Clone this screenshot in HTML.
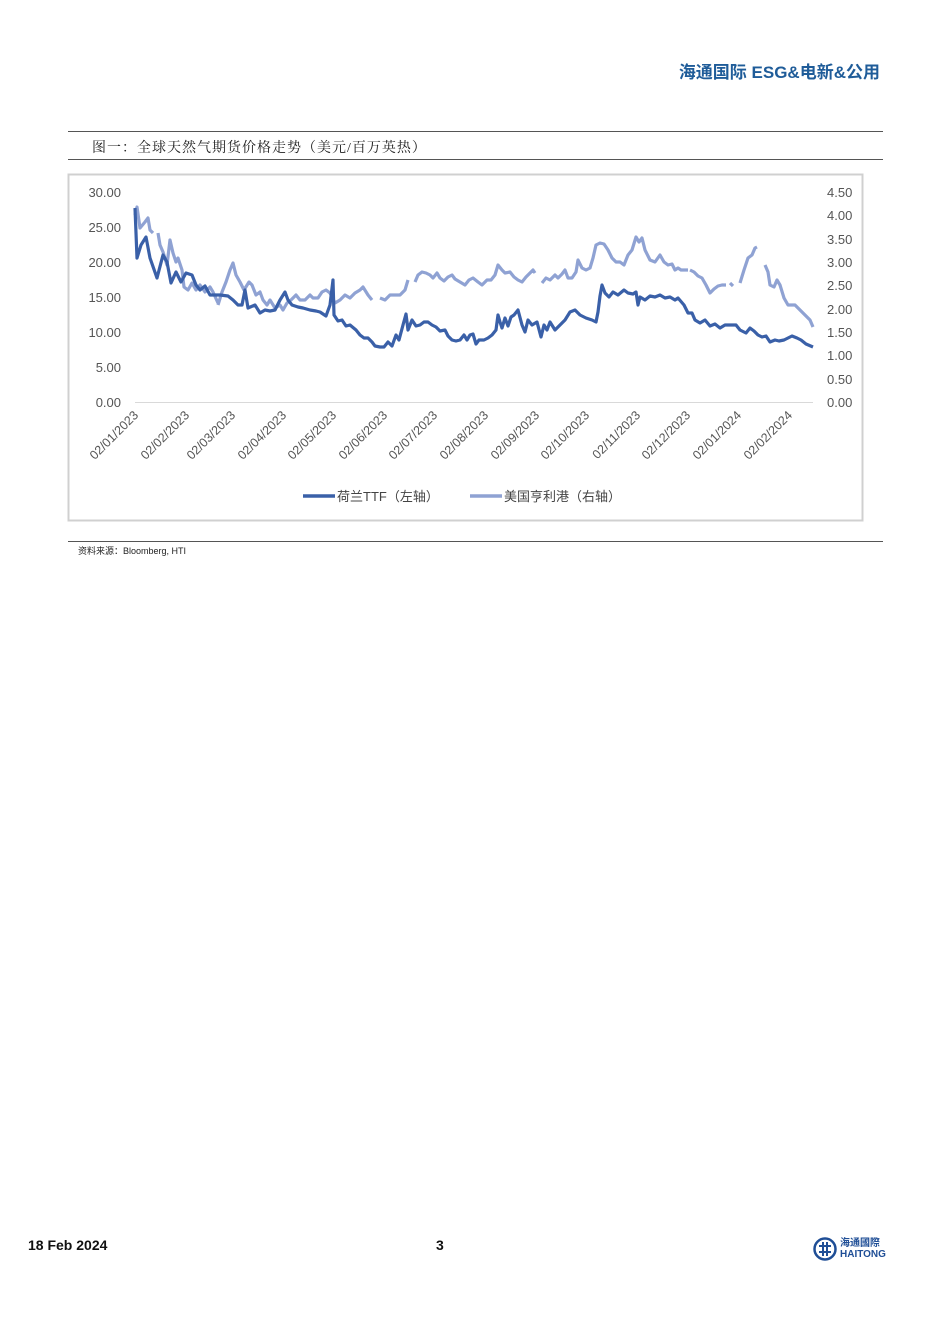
<!DOCTYPE html>
<html><head><meta charset="utf-8"><style>
body{margin:0;background:#fff;}
.p{position:relative;width:950px;height:1343px;font-family:"Liberation Sans","Noto Sans CJK SC",sans-serif;}
.t{position:absolute;white-space:nowrap;}
</style></head><body><div class="p">
<div class="t" style="right:70px;top:58px;font-size:17px;font-weight:bold;color:#1F5C99;font-family:'Liberation Sans','Noto Sans CJK SC',sans-serif;">海通国际 ESG&amp;电新&amp;公用</div>
<div style="position:absolute;left:68px;top:131px;width:815px;border-top:1px solid #555"></div>
<div class="t" style="left:92px;top:137px;font-size:14px;color:#222;font-family:'Liberation Serif','Noto Serif CJK SC',serif;letter-spacing:1px">图一：全球天然气期货价格走势（美元/百万英热）</div>
<div style="position:absolute;left:68px;top:159px;width:815px;border-top:1px solid #555"></div>
<svg style="position:absolute;left:0;top:0" width="950" height="600">
<rect x="68.5" y="174.5" width="794" height="346" fill="none" stroke="#d0d0d0" stroke-width="2"/>
<g font-family="Liberation Sans,sans-serif" font-size="13" fill="#555">
<text x="121" y="197" text-anchor="end">30.00</text><text x="121" y="232" text-anchor="end">25.00</text><text x="121" y="267" text-anchor="end">20.00</text><text x="121" y="302" text-anchor="end">15.00</text><text x="121" y="337" text-anchor="end">10.00</text><text x="121" y="372" text-anchor="end">5.00</text><text x="121" y="407" text-anchor="end">0.00</text>
<text x="827" y="197">4.50</text><text x="827" y="220">4.00</text><text x="827" y="244">3.50</text><text x="827" y="267">3.00</text><text x="827" y="290">2.50</text><text x="827" y="314">2.00</text><text x="827" y="337">1.50</text><text x="827" y="360">1.00</text><text x="827" y="384">0.50</text><text x="827" y="407">0.00</text>
</g>
<line x1="135" y1="402.5" x2="813" y2="402.5" stroke="#d9d9d9"/>
<g font-family="Liberation Sans,sans-serif" font-size="12.5" fill="#555" text-anchor="end">
<text transform="translate(139,416) rotate(-45)">02/01/2023</text>
<text transform="translate(190,416) rotate(-45)">02/02/2023</text>
<text transform="translate(236,416) rotate(-45)">02/03/2023</text>
<text transform="translate(287,416) rotate(-45)">02/04/2023</text>
<text transform="translate(337,416) rotate(-45)">02/05/2023</text>
<text transform="translate(388,416) rotate(-45)">02/06/2023</text>
<text transform="translate(438,416) rotate(-45)">02/07/2023</text>
<text transform="translate(489,416) rotate(-45)">02/08/2023</text>
<text transform="translate(540,416) rotate(-45)">02/09/2023</text>
<text transform="translate(590,416) rotate(-45)">02/10/2023</text>
<text transform="translate(641,416) rotate(-45)">02/11/2023</text>
<text transform="translate(691,416) rotate(-45)">02/12/2023</text>
<text transform="translate(742,416) rotate(-45)">02/01/2024</text>
<text transform="translate(793,416) rotate(-45)">02/02/2024</text>
</g>
<g fill="none" stroke="#8FA2D3" stroke-width="3.2" stroke-linejoin="round">
<polyline points="135,215 137,207 140,228 145,222 148,218 150,230 153,233"/>
<polyline points="158,233 160,245 163,252 167,265 170,240 173,253 176,262 178,258 182,270 184,287 188,290 192,283 196,290 200,285 205,292 210,287 213,292 218,303"/>
<polyline points="218,305 222,292 226,282 230,270 233,263 236,275 240,282 244,290 249,282 252,285 256,295 260,292 263,300 267,305 270,300 275,308 280,305 283,310 287,303 291,300 296,295 300,300 305,300 310,295 313,298 318,298 322,292 326,290 330,293 335,303 340,300 345,295 350,298 355,293 360,290 363,287 368,295 372,300"/>
<polyline points="380,298 385,300 390,295 395,295 400,295 405,290 408,280"/>
<polyline points="415,282 418,275 422,272 426,273 430,275 433,278 437,273 440,278 444,281 448,277 452,275 455,279 460,282 465,285 469,280 473,278 478,282 482,285 487,280 491,280 495,275 498,265 502,270 505,273 510,272 514,277 518,280 522,282 526,277 530,273 533,270 535,273"/>
<polyline points="542,283 546,278 550,280 555,275 558,278 562,274 565,270 568,278 572,278 576,272 578,260 582,268 586,270 590,268 593,258 596,245 600,243 604,244 608,250 612,258 616,262 620,262 624,265 628,255 632,250 636,237 639,242 642,238 645,250 650,260 655,262 660,255 664,262 668,265 672,264 675,270 678,268 681,270 686,270 688,270"/>
<polyline points="690,270 694,272 698,276 702,278 706,285 710,293 714,289 718,286 722,285 726,285"/>
<polyline points="730,283 733,286"/>
<polyline points="740,283 744,270 748,258 752,255 755,248 757,247"/>
<polyline points="765,265 768,272 770,285 774,287 777,280 780,285 784,298 788,305 795,305 800,310 805,315 810,320 813,327"/>
</g>
<polyline fill="none" stroke="#3A60A8" stroke-width="3.2" stroke-linejoin="round" points="135,208 137,258 141,245 146,237 150,258 157,278 163,255 167,262 171,283 176,272 181,282 186,273 192,275 196,285 200,290 205,286 210,295 214,295 220,295 228,296 233,300 238,305 242,305 245,290 248,308 255,305 260,313 265,310 270,311 275,310 280,300 285,292 288,300 292,305 298,307 303,308 310,310 316,311 320,312 326,316 330,305 333,280 334,315 338,321 342,320 346,326 350,325 356,330 360,335 364,338 368,338 372,342 375,346 380,347 384,347 388,342 392,346 396,335 399,340 403,325 406,314 408,330 412,320 416,326 420,325 424,322 428,322 432,325 436,327 440,331 445,330 448,336 452,340 456,341 460,340 464,335 467,340 470,335 473,334 476,344 479,340 484,340 488,338 492,335 496,330 498,315 500,322 502,328 505,318 508,326 511,317 514,315 518,310 522,325 525,332 528,320 532,325 537,322 541,337 544,325 547,330 550,322 555,330 560,325 565,320 570,312 575,310 580,315 586,318 592,320 596,322 598,312 600,296 602,285 605,293 609,297 613,292 618,295 624,290 628,293 633,294 636,292 638,305 640,297 645,300 650,296 655,297 660,295 665,298 670,297 675,300 678,298 684,305 688,313 692,313 695,320 700,323 705,320 710,326 715,324 720,328 725,325 730,325 736,325 740,330 746,333 750,328 754,331 758,335 762,337 766,336 770,342 775,340 779,341 784,340 788,338 792,336 797,338 801,340 806,344 813,347"/>
<line x1="303" y1="496" x2="335" y2="496" stroke="#3A60A8" stroke-width="3.5"/>
<line x1="470" y1="496" x2="502" y2="496" stroke="#8FA2D3" stroke-width="3.5"/>
<g font-family="Liberation Sans,Noto Sans CJK SC,sans-serif" font-size="13" fill="#444">
<text x="337" y="501">荷兰TTF（左轴）</text><text x="504" y="501">美国亨利港（右轴）</text>
</g>
</svg>
<div style="position:absolute;left:68px;top:541px;width:815px;border-top:1px solid #555"></div>
<div class="t" style="left:78px;top:544px;font-size:9px;color:#222">资料来源：Bloomberg, HTI</div>
<div class="t" style="left:28px;top:1237px;font-size:14px;font-weight:bold;color:#111">18 Feb 2024</div>
<div class="t" style="left:436px;top:1237px;font-size:14px;font-weight:bold;color:#111">3</div>
<svg style="position:absolute;left:813px;top:1237px" width="24" height="24"><circle cx="12" cy="12" r="10.5" fill="none" stroke="#1F4E96" stroke-width="2.5"/><path d="M6 9H18M6 15H18M10 5V19M14 5V19" stroke="#1F4E96" stroke-width="2"/></svg>
<div class="t" style="left:840px;top:1238px;font-size:10px;color:#1F4E96;font-weight:bold;line-height:11px">海通國際<br>HAITONG</div>
</div></body></html>
